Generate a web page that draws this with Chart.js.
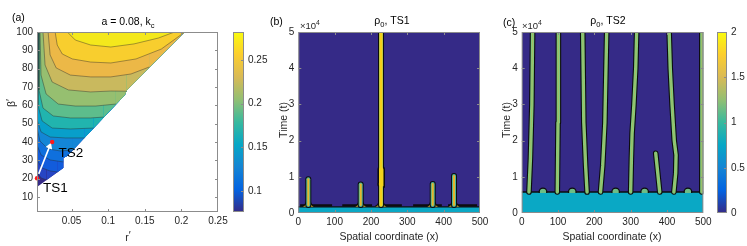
<!DOCTYPE html>
<html>
<head>
<meta charset="utf-8">
<title>k_c contours and rho_0 kymographs</title>
<script src="https://cdn.jsdelivr.net/npm/chart.js@4.4.1/dist/chart.umd.min.js"></script>
<style>
  html, body { margin: 0; padding: 0; background: #fff; }
  #fig { position: relative; width: 747px; height: 246px; overflow: hidden; background: #fff; }
  #fig canvas { position: absolute; left: 0; top: 0; }
</style>
</head>
<body>
<div id="fig">
  <canvas id="pa" width="747" height="246"></canvas>
  <canvas id="cba" width="747" height="246"></canvas>
  <canvas id="pb" width="747" height="246"></canvas>
  <canvas id="pc" width="747" height="246"></canvas>
  <canvas id="cbc" width="747" height="246"></canvas>
</div>
<script>
// ---------- (a) k_c contours in the (r', beta') plane, lines
const edgeA = [[0.0028, 15.4], [0.0387, 25.8], [0.0388, 31.3], [0.0442, 32.4], [0.1229, 65.6], [0.1257, 68.4], [0.2044, 100]];
const lvl1 = [[0.0028, 23.6], [0.0083, 20.4], [0.0160, 19.3]];
const lvl2 = [[0.0028, 30.2], [0.0097, 25.8], [0.0207, 24.2], [0.0311, 23.6]];
const lvl3 = [[0.0028, 38.4], [0.0083, 32.9], [0.0207, 30.2], [0.0387, 29.1]];
const lvl4 = [[0.0028, 47.6], [0.0069, 40.5], [0.0180, 36.2], [0.0345, 35.1], [0.0519, 35.6]];
const lvl5 = [[0.0028, 100], [0.0030, 52.0], [0.0083, 45.5], [0.0207, 42.7], [0.0414, 42.2], [0.0677, 42.2]];
const lvl6 = [[0.0041, 100], [0.0041, 60.2], [0.0097, 51.5], [0.0235, 47.6], [0.0483, 47.1], [0.0801, 47.6]];
const lvl7 = [[0.0055, 100], [0.0055, 68.4], [0.0110, 58.5], [0.0249, 54.2], [0.0483, 53.1], [0.0760, 53.1], [0.0939, 53.6]];
const lvl8 = [[0.0069, 100], [0.0083, 76.5], [0.0152, 66.2], [0.0318, 60.7], [0.0552, 59.6], [0.0829, 59.6], [0.1105, 60.7]];
const lvl9 = [[0.0110, 100], [0.0138, 82.0], [0.0235, 72.7], [0.0456, 68.4], [0.0760, 67.3], [0.1036, 67.8], [0.1250, 67.7]];
const lvl10 = [[0.0180, 100], [0.0207, 87.5], [0.0290, 80.4], [0.0483, 76.5], [0.0760, 75.5], [0.1036, 75.5], [0.1312, 77.1], [0.1561, 80.9]];
const lvl11 = [[0.0276, 100], [0.0304, 92.9], [0.0373, 88.0], [0.0511, 85.3], [0.0760, 83.6], [0.1036, 83.1], [0.1381, 85.3], [0.1726, 90.7], [0.2030, 99.5]];
const lvl12 = [[0.0442, 100], [0.0552, 95.6], [0.0760, 92.9], [0.1036, 91.8], [0.1353, 93.5], [0.1685, 96.7], [0.1906, 100]];
const bandA = ['#352a87', '#2645c4', '#125cdc', '#0f70dd', '#1386d6', '#089fca', '#21b4ae', '#5dbd8c', '#96bf70', '#c9b95e', '#ecb847', '#f8ce2e', '#f4e81c'];
const tsPts = [[0.0028, 20.2], [0.0235, 40.0]];
const arrowPts = [[0.0052, 22.6], [0.0200, 37.6]];
const tsLabels = [['TS1', 0.0110, 12.7], ['TS2', 0.0322, 32.0]];
const xTicksA = [0.05, 0.1, 0.15, 0.2, 0.25];
const xLabelsA = ['0.05', '0.1', '0.15', '0.2', '0.25'];
const yTicksA = [10, 20, 30, 40, 50, 60, 70, 80, 90, 100];
const yLabelsA = ['10', '20', '30', '40', '50', '60', '70', '80', '90', '100'];
const cbRangeA = [0.076, 0.282];
const cbTicksA = [0.1, 0.15, 0.2, 0.25];
const cbLabelsA = ['0.1', '0.15', '0.2', '0.25'];

// ---------- (b) rho_0 for TS1
const bCyan = [[0, 0.17], [500, 0.17]];
const bRidges = [[[5, 0.21], [93, 0.21]], [[121, 0.21], [203, 0.21]], [[233, 0.21], [285, 0.21]], [[316, 0.21], [395, 0.21]], [[412, 0.21], [492, 0.21]]];
const bSpikeX = [27.5, 171.7, 227.6, 369.9, 428.5];
const bSpikeTop = [0.93, 0.79, 5, 0.80, 1.02];
const flareDx = [-16, -9, -5, -3.5, 3.5, 5, 9, 16];
const flareT = [0.18, 0.23, 0.31, 0.46, 0.46, 0.31, 0.23, 0.18];
const bBulge = [[227.6, 0.8], [228.2, 1.2]];

// ---------- (c) rho_0 for TS2
const cBand = [[0, 0.58], [500, 0.58]];
const cBumpX = [58.6, 139.3, 258.7, 338.5, 457.7];
const cLines = [
  [[20, 0.58], [24, 1.5], [28, 3], [30, 5]],
  [[98, 0.58], [100, 2.5], [101, 5]],
  [[180, 0.58], [176, 1.3], [171, 2.5], [168, 5]],
  [[217, 0.58], [223, 1.3], [229, 2.5], [234, 5]],
  [[300, 0.58], [302, 1.5], [304, 2.2], [309, 3], [314, 4], [316.5, 5]],
  [[380, 0.58], [369, 1.65]],
  [[419, 0.58], [424, 1.1], [425, 1.6], [420, 2.0], [414, 3], [409, 4], [406, 5]],
  [[496, 0.58], [496, 5]]
];
const xTicksX = [0, 100, 200, 300, 400, 500];
const xLabelsX = ['0', '100', '200', '300', '400', '500'];
const tTicks = [0, 1, 2, 3, 4, 5];
const tLabels = ['0', '1', '2', '3', '4', '5'];
const cbRangeC = [0, 2];
const cbTicksC = [0, 0.5, 1, 1.5, 2];
const cbLabelsC = ['0', '0.5', '1', '1.5', '2'];

const FONT = '"Liberation Sans", Arial, Helvetica, sans-serif';
const NAVY = '#352a87';
const CYAN = '#0aa8c5';
const parula = ['#352a87', '#0363e1', '#1485d4', '#06a7c6', '#38b99e', '#92bf73', '#d9ba56', '#fcce2e', '#f9fb0e'];
const lineA = 'rgba(40,40,40,0.6)';

const pts = a => a.map(([x, y]) => ({ x, y }));

function pad(area, yw, xh, yRight) {
  if (yRight) return { left: area[0], top: area[1], right: 747 - area[2] - yw, bottom: 246 - area[3] - xh };
  return { left: area[0] - yw, top: area[1], right: 747 - area[2], bottom: 246 - area[3] - xh };
}

function axis(min, max, vals, labels, pos, size) {
  return {
    type: 'linear', position: pos, min, max,
    grid: { display: false, drawTicks: false }, border: { display: false },
    afterBuildTicks: s => { s.ticks = vals.map(v => ({ value: v })); },
    afterFit: s => { if (pos === 'bottom') s.height = size; else s.width = size; },
    ticks: {
      font: { family: FONT, size: 10 }, color: '#262626', padding: pos === 'bottom' ? 3 : 4,
      maxRotation: 0, autoSkip: false, callback: (v, i) => labels[i]
    }
  };
}

function stackOrder(list) {
  list.forEach((d, i) => { d.order = list.length - i; });
  return list;
}

const frame = {
  id: 'frame',
  afterDatasetsDraw(chart, args, o) {
    const { ctx, chartArea: a } = chart;
    ctx.save();
    ctx.strokeStyle = '#8c8c8c';
    ctx.lineWidth = 1;
    ctx.strokeRect(a.left + 0.5, a.top + 0.5, a.width - 1, a.height - 1);
    ctx.beginPath();
    const L = 3;
    if (o.x) {
      const s = chart.scales.x;
      s.ticks.forEach(t => {
        const p = Math.round(s.getPixelForValue(t.value)) + 0.5;
        if (p < a.left + 2 || p > a.right - 2) return;
        ctx.moveTo(p, a.bottom); ctx.lineTo(p, a.bottom - L);
        ctx.moveTo(p, a.top); ctx.lineTo(p, a.top + L);
      });
    }
    if (o.y) {
      const s = chart.scales.y;
      s.ticks.forEach(t => {
        const p = Math.round(s.getPixelForValue(t.value)) + 0.5;
        if (p < a.top + 2 || p > a.bottom - 2) return;
        if (o.y !== 'right') { ctx.moveTo(a.left, p); ctx.lineTo(a.left + L, p); }
        ctx.moveTo(a.right, p); ctx.lineTo(a.right - L, p);
      });
    }
    ctx.stroke();
    ctx.restore();
  }
};

// parts: [text, kind] with kind 0 normal, -1 subscript, 1 superscript, 2 prime
function rich(ctx, x, y, parts, size, align) {
  const fs = k => (k === -1 || k === 1 ? size * 0.72 : size);
  const dy = k => (k === -1 ? size * 0.3 : k === 1 ? -size * 0.42 : k === 2 ? -size * 0.1 : 0);
  let w = 0;
  parts.forEach(([t, k]) => { ctx.font = fs(k) + 'px ' + FONT; w += ctx.measureText(t).width; });
  let cx = align === 'center' ? x - w / 2 : x;
  ctx.textAlign = 'left';
  ctx.textBaseline = 'alphabetic';
  parts.forEach(([t, k]) => {
    ctx.font = fs(k) + 'px ' + FONT;
    ctx.fillText(t, cx, y + dy(k));
    cx += ctx.measureText(t).width;
  });
}

function rotated(ctx, x, y, parts, size) {
  ctx.save();
  ctx.translate(x, y);
  ctx.rotate(-Math.PI / 2);
  rich(ctx, 0, size * 0.35, parts, size, 'center');
  ctx.restore();
}

const base = (area, yw, xh, yRight) => ({
  responsive: false, animation: false, devicePixelRatio: 1,
  layout: { padding: pad(area, yw, xh, yRight) },
  elements: { point: { radius: 0 }, line: { tension: 0 } }
});

// ---------- (a)
const dsA = [edgeA, lvl1, lvl2, lvl3, lvl4, lvl5, lvl6, lvl7, lvl8, lvl9, lvl10, lvl11, lvl12].map((lv, i) => {
  const n = lv.length;
  const path = i === 0 ? lv : lv.concat(edgeA.filter(p => p[0] > lv[n - 1][0]));
  return {
    data: pts(path), fill: 'end', backgroundColor: bandA[i],
    borderWidth: i === 0 ? 0 : 0.7, borderColor: lineA,
    segment: { borderColor: s => (s.p0DataIndex >= n - 1 ? 'rgba(0,0,0,0)' : lineA) }
  };
});
dsA.push({
  data: pts(arrowPts), fill: false, borderColor: '#fff', borderWidth: 1.6,
  pointRadius: [0, 4], pointStyle: 'triangle', pointRotation: 21,
  pointBackgroundColor: '#fff', pointBorderColor: '#fff', pointBorderWidth: 0
});
dsA.push({
  data: pts(tsPts), showLine: false, fill: false, pointRadius: 2.2,
  pointBackgroundColor: '#ff1a1a', pointBorderWidth: 0, clip: false
});

const tsText = {
  id: 'tsText',
  afterDatasetsDraw(chart) {
    const { ctx, scales } = chart;
    ctx.save();
    ctx.fillStyle = '#000';
    tsLabels.forEach(([t, x, y]) => rich(ctx, scales.x.getPixelForValue(x), scales.y.getPixelForValue(y), [[t, 0]], 13.5, 'left'));
    ctx.restore();
  }
};

new Chart(document.getElementById('pa'), {
  type: 'line',
  data: { datasets: stackOrder(dsA) },
  options: Object.assign(base([37, 32, 218, 212], 30, 20), {
    plugins: { legend: { display: false }, tooltip: { enabled: false }, frame: { x: true, y: true } },
    scales: {
      x: axis(0.0028, 0.25, xTicksA, xLabelsA, 'bottom', 20),
      y: axis(1.8, 100, yTicksA, yLabelsA, 'left', 30)
    }
  }),
  plugins: [frame, tsText]
});

// ---------- colour bars
function parulaGrad(chart) {
  const a = chart.chartArea;
  if (!a) return parula[0];
  const g = chart.ctx.createLinearGradient(0, a.bottom, 0, a.top);
  parula.forEach((c, i) => g.addColorStop(i / (parula.length - 1), c));
  return g;
}

function colorbar(id, area, range, vals, labels, extra) {
  return new Chart(document.getElementById(id), {
    type: 'bar',
    data: {
      labels: [''],
      datasets: [{ data: [range], backgroundColor: c => parulaGrad(c.chart), borderWidth: 0, barPercentage: 1, categoryPercentage: 1 }]
    },
    options: Object.assign(base(area, 30, 0, true), {
      plugins: { legend: { display: false }, tooltip: { enabled: false }, frame: { x: false, y: 'right' } },
      scales: { x: { display: false }, y: axis(range[0], range[1], vals, labels, 'right', 30) }
    }),
    plugins: extra ? [frame, extra] : [frame]
  });
}
colorbar('cba', [233, 32, 244, 212], cbRangeA, cbTicksA, cbLabelsA);

// ---------- (b)
const dsB = [
  { data: pts([[0, 5], [500, 5]]), fill: 'start', backgroundColor: NAVY, borderWidth: 0 },
  { data: pts(bCyan), fill: 'start', backgroundColor: CYAN, borderColor: '#0d0d0d', borderWidth: 1.3 }
];
bRidges.forEach(r => dsB.push({ data: pts(r), fill: false, borderColor: '#0d0d0d', borderWidth: 2.2 }));
bSpikeX.forEach(x => {
  dsB.push({
    data: flareDx.map((dx, k) => ({ x: x + dx, y: flareT[k] })), fill: { value: 0.17 },
    backgroundColor: '#c9a22a', borderColor: '#0d0d0d', borderWidth: 1.3
  });
});
dsB.push({ data: pts(bBulge), fill: false, borderColor: '#0d0d0d', borderWidth: 7.5, borderCapStyle: 'round' });
bSpikeX.forEach((x, i) => {
  const line = [{ x, y: 0.22 }, { x, y: bSpikeTop[i] }];
  const tall = bSpikeTop[i] > 2;
  dsB.push({ data: line, fill: false, borderColor: '#0d0d0d', borderWidth: 6, borderCapStyle: 'round' });
  dsB.push({ data: line, fill: false, borderColor: tall ? '#9cc262' : '#4fb59a', borderWidth: 4, borderCapStyle: 'round' });
  dsB.push({ data: line, fill: false, borderColor: tall ? '#f4cf1a' : '#e6b52c', borderWidth: tall ? 2.8 : 2, borderCapStyle: 'round' });
});
dsB.push({ data: pts(bBulge), fill: false, borderColor: '#f2d21c', borderWidth: 4.5, borderCapStyle: 'round' });
dsB.forEach(d => { d.clip = 0; });

new Chart(document.getElementById('pb'), {
  type: 'line',
  data: { datasets: stackOrder(dsB) },
  options: Object.assign(base([298.3, 32, 480, 213], 30, 20), {
    plugins: { legend: { display: false }, tooltip: { enabled: false }, frame: { x: true, y: true } },
    scales: {
      x: axis(0, 500, xTicksX, xLabelsX, 'bottom', 20),
      y: axis(0, 5, tTicks, tLabels, 'left', 30)
    }
  }),
  plugins: [frame]
});

// ---------- (c)
const dsC = [
  { data: pts([[0, 5], [500, 5]]), fill: 'start', backgroundColor: NAVY, borderWidth: 0 },
  { data: pts(cBand), fill: 'start', backgroundColor: CYAN, borderColor: '#0d0d0d', borderWidth: 1.5 },
  {
    data: cBumpX.map(x => ({ x, y: cBand[0][1] })), showLine: false, fill: false,
    pointRadius: 3.8, pointBackgroundColor: '#6dbd86', pointBorderColor: '#0d0d0d', pointBorderWidth: 1.3
  },
  { data: pts([[0, 0.555], [500, 0.555]]), fill: 'start', backgroundColor: CYAN, borderWidth: 0 }
];
cLines.forEach(l => {
  dsC.push({ data: pts(l), fill: false, borderColor: '#0d0d0d', borderWidth: 5.6, borderCapStyle: 'round', borderJoinStyle: 'round' });
});
cLines.forEach(l => {
  dsC.push({ data: pts(l), fill: false, borderColor: '#80c87c', borderWidth: 3.4, borderCapStyle: 'round', borderJoinStyle: 'round' });
  dsC.push({ data: pts(l), fill: false, borderColor: 'rgba(214,176,70,0.55)', borderWidth: 0.8, borderCapStyle: 'round' });
});
dsC.forEach(d => { d.clip = 0; });

new Chart(document.getElementById('pc'), {
  type: 'line',
  data: { datasets: stackOrder(dsC) },
  options: Object.assign(base([521.7, 32, 703.3, 213], 30, 20), {
    plugins: { legend: { display: false }, tooltip: { enabled: false }, frame: { x: true, y: true } },
    scales: {
      x: axis(0, 500, xTicksX, xLabelsX, 'bottom', 20),
      y: axis(0, 5, tTicks, tLabels, 'left', 30)
    }
  }),
  plugins: [frame]
});

// ---------- titles and axis labels (drawn on the top-most canvas)
const pageText = {
  id: 'pageText',
  afterDraw(chart) {
    const ctx = chart.ctx;
    ctx.save();
    ctx.fillStyle = '#000';
    rich(ctx, 12, 21, [['(a)', 0]], 10.5, 'left');
    rich(ctx, 128, 25, [['a = 0.08, k', 0], ['c', -1]], 10.5, 'center');
    rich(ctx, 270, 25, [['(b)', 0]], 10.5, 'left');
    rich(ctx, 392, 23.5, [['\u03c1', 0], ['0', -1], [', TS1', 0]], 10.5, 'center');
    rich(ctx, 503, 25.5, [['(c)', 0]], 10.5, 'left');
    rich(ctx, 608, 23.5, [['\u03c1', 0], ['0', -1], [', TS2', 0]], 10.5, 'center');
    ctx.fillStyle = '#262626';
    rich(ctx, 300, 28.5, [['\u00d710', 0], ['4', 1]], 9.5, 'left');
    rich(ctx, 522, 28.5, [['\u00d710', 0], ['4', 1]], 9.5, 'left');
    rich(ctx, 128, 240.5, [['r', 0], ['\u2032', 2]], 10.5, 'center');
    rotated(ctx, 11, 103, [['\u03b2', 0], ['\u2032', 2]], 10.5);
    rich(ctx, 389, 240, [['Spatial coordinate (x)', 0]], 10.5, 'center');
    rich(ctx, 612, 240, [['Spatial coordinate (x)', 0]], 10.5, 'center');
    rotated(ctx, 283, 120, [['Time (t)', 0]], 10.5);
    rotated(ctx, 506, 120, [['Time (t)', 0]], 10.5);
    ctx.restore();
  }
};
colorbar('cbc', [717, 32, 727, 213], cbRangeC, cbTicksC, cbLabelsC, pageText);
</script>
</body>
</html>
